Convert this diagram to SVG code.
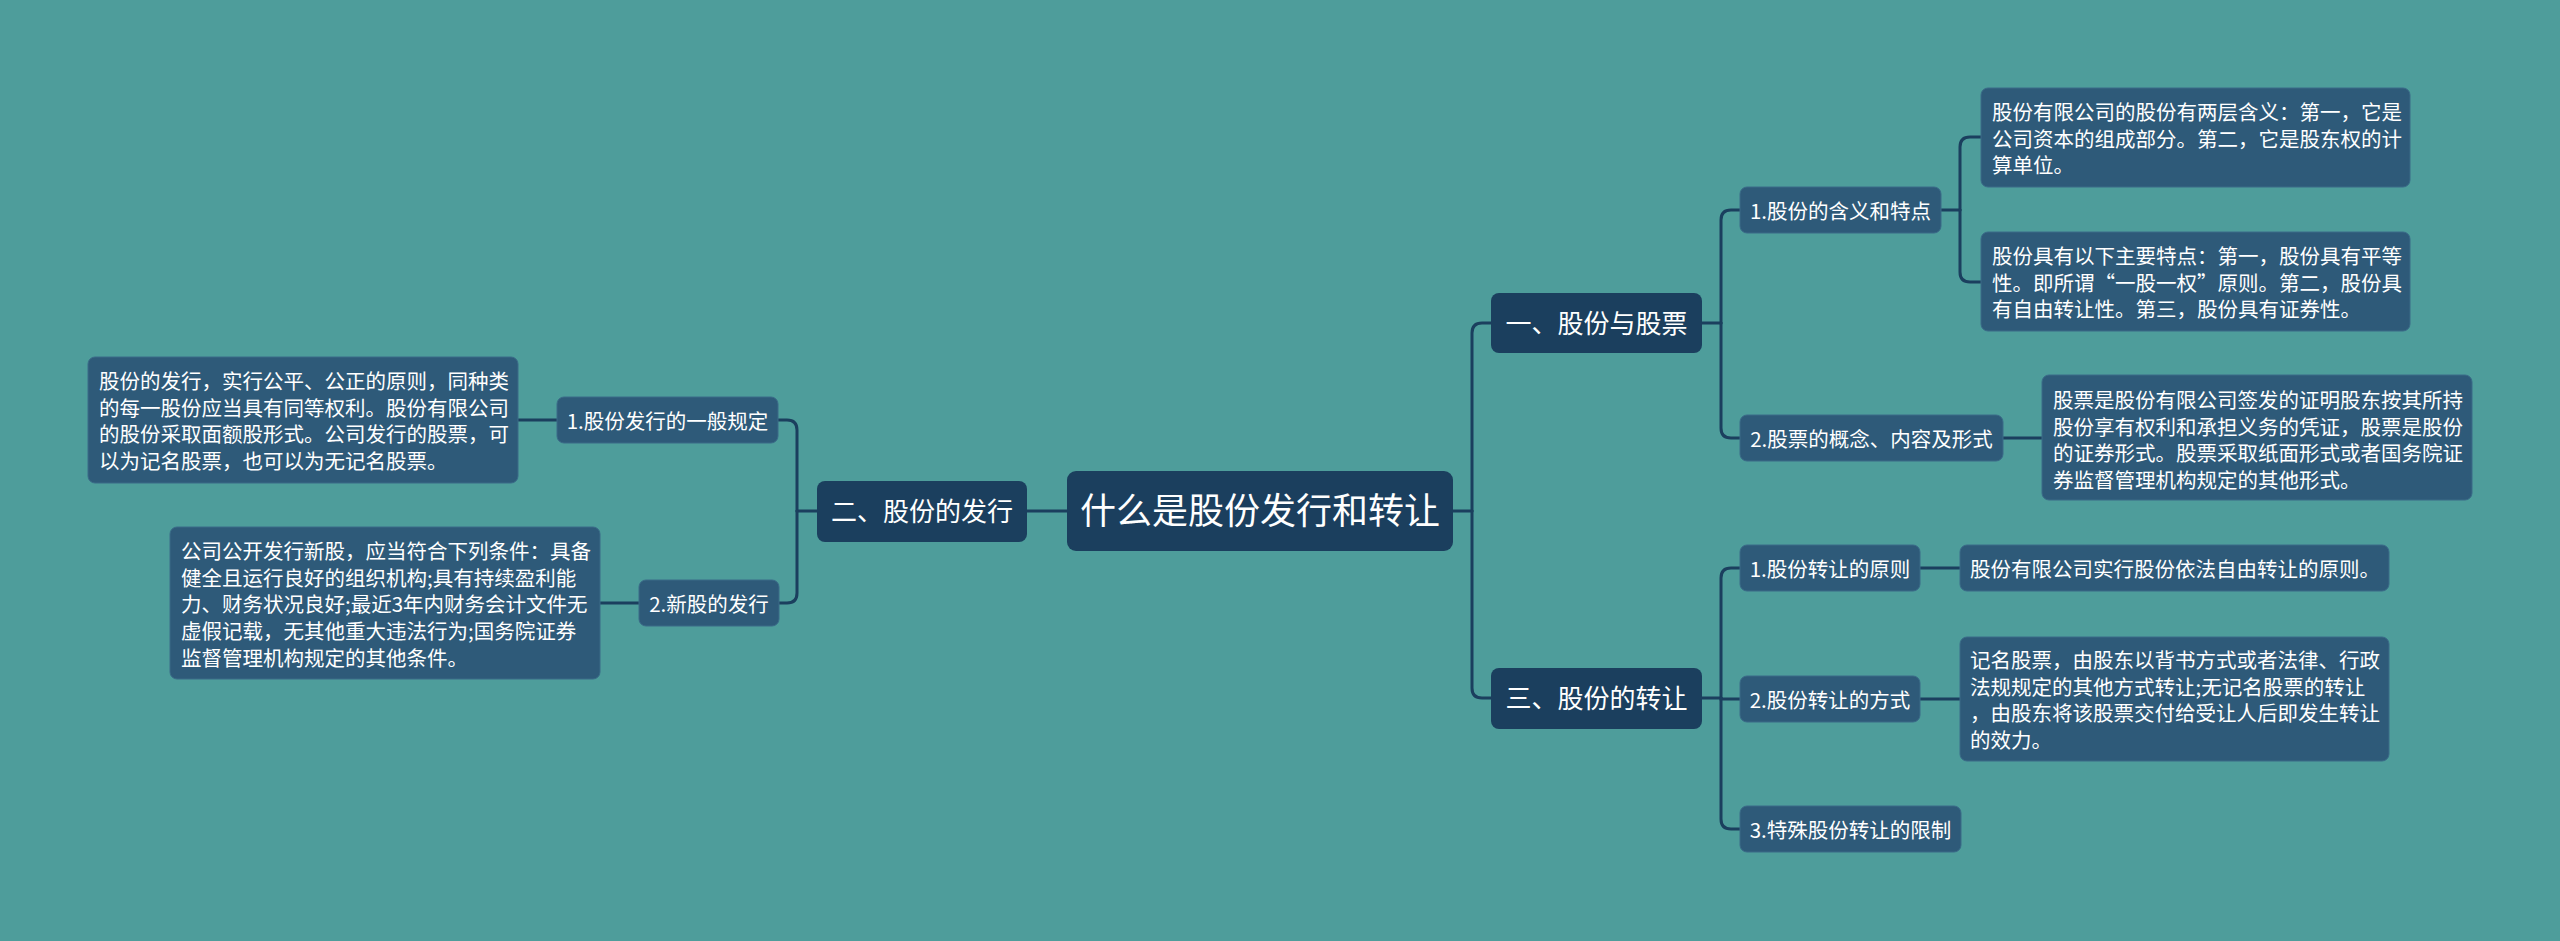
<svg xmlns="http://www.w3.org/2000/svg" width="2560" height="941" viewBox="0 0 2560 941">
<style>
text{font-family:"Noto Sans CJK SC","Noto Sans",sans-serif;fill:#ffffff}
.dark{fill:#1b3f5e}
.light{fill:#2e5a79;stroke:#3a6a88;stroke-width:1}
.root{font-size:36px;text-anchor:middle}
.l1{font-size:26px;text-anchor:middle}
.l2{font-size:20.5px;text-anchor:middle}
.leaf{font-size:20.5px}
.conn path{fill:none;stroke:#1b3f5e;stroke-width:3;stroke-linecap:round}
</style>
<rect width="2560" height="941" fill="#4e9d9b"/>
<g class="conn">
<path d="M1453 511 H1472"/>
<path d="M1472 511 V333 Q1472 323 1482 323 H1491"/>
<path d="M1472 511 V688 Q1472 698 1482 698 H1491"/>
<path d="M1067 511 H1027"/>
<path d="M817 511 H797"/>
<path d="M797 511 V430 Q797 420 787 420 H778"/>
<path d="M797 511 V593 Q797 603 787 603 H779"/>
<path d="M557 420 H518"/>
<path d="M639 603 H600"/>
<path d="M1702 323 H1721"/>
<path d="M1721 323 V220 Q1721 210 1731 210 H1740"/>
<path d="M1721 323 V428 Q1721 438 1731 438 H1740"/>
<path d="M1941 210 H1960"/>
<path d="M1960 210 V147 Q1960 137 1970 137 H1981"/>
<path d="M1960 210 V272 Q1960 282 1970 282 H1981"/>
<path d="M2003 438 H2042"/>
<path d="M1702 698 H1721"/>
<path d="M1721 698 V578 Q1721 568 1731 568 H1740"/>
<path d="M1721 698 V699 H1740"/>
<path d="M1721 698 V819 Q1721 829 1731 829 H1740"/>
<path d="M1920 568 H1960"/>
<path d="M1920 699 H1960"/>
</g>
<g id="root">
<rect class="dark" x="1067" y="471" width="386" height="80" rx="9"/>
<text class="root" x="1260" y="524">什么是股份发行和转让</text>
</g>
<g id="n-yi">
<rect class="dark" x="1491" y="293" width="211" height="60" rx="8"/>
<text class="l1" x="1596.5" y="332.5">一、股份与股票</text>
</g>
<g id="n-er">
<rect class="dark" x="817" y="481" width="210" height="61" rx="8"/>
<text class="l1" x="922" y="521">二、股份的发行</text>
</g>
<g id="n-san">
<rect class="dark" x="1491" y="668" width="211" height="61" rx="8"/>
<text class="l1" x="1596.5" y="708">三、股份的转让</text>
</g>
<g id="n-1-1">
<rect class="light" x="1740" y="187" width="201" height="46" rx="7"/>
<text class="l2" x="1840.5" y="218.5">1.股份的含义和特点</text>
</g>
<g id="n-1-2">
<rect class="light" x="1740" y="415" width="263" height="46" rx="7"/>
<text class="l2" x="1871.5" y="446.5">2.股票的概念、内容及形式</text>
</g>
<g id="n-3-1">
<rect class="light" x="1740" y="545" width="180" height="46" rx="7"/>
<text class="l2" x="1830" y="576.5">1.股份转让的原则</text>
</g>
<g id="n-3-2">
<rect class="light" x="1740" y="676" width="180" height="46" rx="7"/>
<text class="l2" x="1830" y="707.5">2.股份转让的方式</text>
</g>
<g id="n-3-3">
<rect class="light" x="1740" y="806" width="221" height="46" rx="7"/>
<text class="l2" x="1850.5" y="837.5">3.特殊股份转让的限制</text>
</g>
<g id="n-2-1">
<rect class="light" x="557" y="397" width="221" height="46" rx="7"/>
<text class="l2" x="667.5" y="428.5">1.股份发行的一般规定</text>
</g>
<g id="n-2-2">
<rect class="light" x="639" y="580" width="140" height="46" rx="7"/>
<text class="l2" x="709" y="611.5">2.新股的发行</text>
</g>
<g id="leaf-1a">
<rect class="light" x="1981" y="88" width="429" height="99" rx="7"/>
<text class="leaf" x="1992"><tspan x="1992" y="120">股份有限公司的股份有两层含义：第一，它是</tspan><tspan x="1992" y="146.7">公司资本的组成部分。第二，它是股东权的计</tspan><tspan x="1992" y="173.4">算单位。</tspan></text>
</g>
<g id="leaf-1b">
<rect class="light" x="1981" y="232" width="429" height="99" rx="7"/>
<text class="leaf" x="1992"><tspan x="1992" y="264">股份具有以下主要特点：第一，股份具有平等</tspan><tspan x="1992" y="290.7">性。即所谓“一股一权”原则。第二，股份具</tspan><tspan x="1992" y="317.4">有自由转让性。第三，股份具有证券性。</tspan></text>
</g>
<g id="leaf-2">
<rect class="light" x="2042" y="375" width="430" height="125" rx="7"/>
<text class="leaf" x="2053"><tspan x="2053" y="408">股票是股份有限公司签发的证明股东按其所持</tspan><tspan x="2053" y="434.7">股份享有权利和承担义务的凭证，股票是股份</tspan><tspan x="2053" y="461.4">的证券形式。股票采取纸面形式或者国务院证</tspan><tspan x="2053" y="488.1">券监督管理机构规定的其他形式。</tspan></text>
</g>
<g id="leaf-3">
<rect class="light" x="1960" y="545" width="429" height="46" rx="7"/>
<text class="leaf" x="1970" y="577">股份有限公司实行股份依法自由转让的原则。</text>
</g>
<g id="leaf-4">
<rect class="light" x="1960" y="637" width="429" height="124" rx="7"/>
<text class="leaf" x="1970"><tspan x="1970" y="668">记名股票，由股东以背书方式或者法律、行政</tspan><tspan x="1970" y="694.7">法规规定的其他方式转让;无记名股票的转让</tspan><tspan x="1970" y="721.4">，由股东将该股票交付给受让人后即发生转让</tspan><tspan x="1970" y="748.1">的效力。</tspan></text>
</g>
<g id="leaf-5">
<rect class="light" x="88" y="357" width="430" height="126" rx="7"/>
<text class="leaf" x="99"><tspan x="99" y="389">股份的发行，实行公平、公正的原则，同种类</tspan><tspan x="99" y="415.7">的每一股份应当具有同等权利。股份有限公司</tspan><tspan x="99" y="442.4">的股份采取面额股形式。公司发行的股票，可</tspan><tspan x="99" y="469.1">以为记名股票，也可以为无记名股票。</tspan></text>
</g>
<g id="leaf-6">
<rect class="light" x="170" y="527" width="430" height="152" rx="7"/>
<text class="leaf" x="181"><tspan x="181" y="559">公司公开发行新股，应当符合下列条件：具备</tspan><tspan x="181" y="585.7">健全且运行良好的组织机构;具有持续盈利能</tspan><tspan x="181" y="612.4">力、财务状况良好;最近3年内财务会计文件无</tspan><tspan x="181" y="639.1">虚假记载，无其他重大违法行为;国务院证券</tspan><tspan x="181" y="665.8">监督管理机构规定的其他条件。</tspan></text>
</g>
</svg>
